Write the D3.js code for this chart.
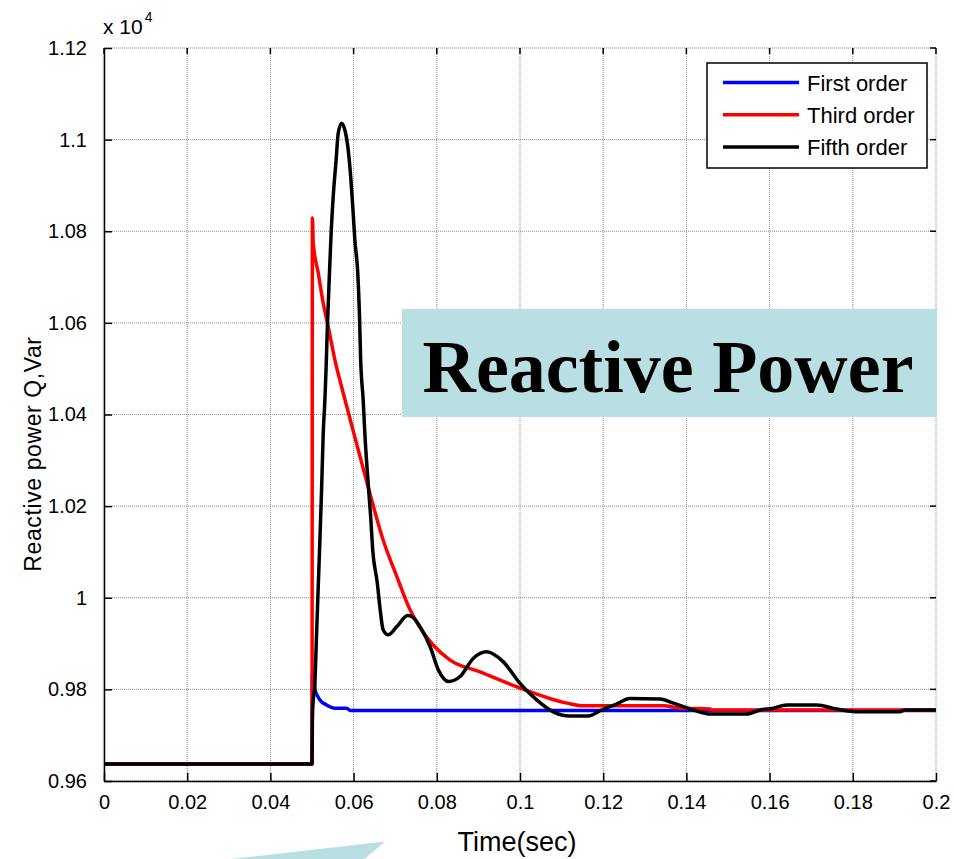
<!doctype html>
<html>
<head>
<meta charset="utf-8">
<title>Reactive Power</title>
<style>
  body { margin: 0; background: #fff; }
  svg { display: block; font-family: "Liberation Sans", Arial, sans-serif; }
</style>
</head>
<body>
<div id="chart"></div>
<script src="https://d3js.org/d3.v7.min.js"></script>
<script>
// time (s), reactive power (Var)
var firstOrder = [
  [0, 9637], [0.05, 9637], [0.0501, 9835], [0.0503, 9830], [0.0507, 9800],
  [0.0512, 9788], [0.0519, 9777], [0.0535, 9766], [0.0555, 9759],
  [0.0583, 9759], [0.0592, 9754], [0.2, 9754]
];
var thirdOrder = [
  [0, 9637], [0.05, 9637], [0.0501, 10829], [0.0503, 10774], [0.0515, 10709],
  [0.0527, 10643], [0.0539, 10592], [0.0555, 10519], [0.0575, 10447],
  [0.0607, 10337], [0.0639, 10228], [0.0671, 10126], [0.0704, 10046],
  [0.0736, 9973], [0.0767, 9925], [0.079, 9898], [0.0832, 9864],
  [0.0904, 9838], [0.1, 9803], [0.1113, 9770], [0.1151, 9764],
  [0.1344, 9764], [0.1385, 9759], [0.1457, 9757], [0.146, 9755], [0.2, 9755]
];
var fifthOrder = [
  [0, 9637], [0.05, 9637], [0.0501, 9735], [0.0502, 9762], [0.0507, 9813],
  [0.0511, 9922], [0.0515, 10024], [0.0519, 10126], [0.0523, 10235],
  [0.0527, 10359], [0.0531, 10432], [0.0534, 10505], [0.0537, 10592],
  [0.0542, 10709], [0.0546, 10796], [0.0551, 10876], [0.0558, 10956],
  [0.0563, 11014], [0.0571, 11036], [0.0579, 11021], [0.0587, 10978],
  [0.0593, 10919], [0.0598, 10854], [0.0603, 10781], [0.061, 10709],
  [0.0614, 10621], [0.0617, 10519], [0.0623, 10432], [0.0627, 10359],
  [0.0635, 10250], [0.0641, 10177], [0.0646, 10104], [0.0657, 10032],
  [0.0663, 9981], [0.0671, 9930], [0.0683, 9919], [0.0704, 9937],
  [0.073, 9961], [0.074, 9959], [0.0764, 9930], [0.0784, 9893],
  [0.0804, 9842], [0.0828, 9817], [0.0856, 9828], [0.0888, 9868],
  [0.092, 9882], [0.096, 9860], [0.1, 9813], [0.104, 9777], [0.108, 9751],
  [0.112, 9742], [0.1164, 9742], [0.1196, 9755], [0.1232, 9768],
  [0.1264, 9780], [0.1337, 9779], [0.1369, 9770], [0.1417, 9755],
  [0.1457, 9746], [0.1545, 9746], [0.1577, 9755], [0.1609, 9759],
  [0.1641, 9766], [0.1713, 9766], [0.1761, 9757], [0.1813, 9751],
  [0.1913, 9751], [0.1925, 9755], [0.2, 9755]
];

var xTicks = [0, 0.02, 0.04, 0.06, 0.08, 0.1, 0.12, 0.14, 0.16, 0.18, 0.2];
var yTicks = [9600, 9800, 10000, 10200, 10400, 10600, 10800, 11000, 11200];
var yTickLabels = ["0.96", "0.98", "1", "1.02", "1.04", "1.06", "1.08", "1.1", "1.12"];

var seriesNames = ["First order", "Third order", "Fifth order"];
var seriesColors = ["#0000ff", "#ff0000", "#000000"];
var seriesData = [firstOrder, thirdOrder, fifthOrder];

var W = 954, H = 859;
var pL = 104, pR = 936, pT = 48, pB = 781;

var svg = d3.select("#chart").append("svg")
  .attr("width", W).attr("height", H);

svg.append("rect").attr("width", W).attr("height", H).attr("fill", "#fff");

var x = d3.scaleLinear().domain([0, 0.2]).range([pL, pR]);
var y = d3.scaleLinear().domain([9600, 11200]).range([pB, pT]);

// grid
var grid = svg.append("g");
grid.selectAll(".gx").data(xTicks).enter().append("line")
  .attr("x1", function(d) { return x(d); }).attr("x2", function(d) { return x(d); })
  .attr("y1", pT).attr("y2", pB)
  .attr("stroke", "#8a8a8a").attr("stroke-width", 1).attr("stroke-dasharray", "1,1");
grid.selectAll(".gy").data(yTicks).enter().append("line")
  .attr("x1", pL).attr("x2", pR)
  .attr("y1", function(d) { return y(d); }).attr("y2", function(d) { return y(d); })
  .attr("stroke", "#8a8a8a").attr("stroke-width", 1).attr("stroke-dasharray", "1,1");

// axes (ticks pointing inwards, MATLAB style)
var xAxis = d3.axisBottom(x).tickValues(xTicks).tickSizeInner(-8).tickSizeOuter(0)
  .tickPadding(14).tickFormat(function(d) { return d3.format("")(+d.toFixed(2)); });
var gx = svg.append("g").attr("transform", "translate(0," + pB + ")").call(xAxis);
var yAxis = d3.axisLeft(y).tickValues(yTicks).tickSizeInner(-8).tickSizeOuter(0)
  .tickPadding(17).tickFormat(function(d, i) { return yTickLabels[i]; });
var gy = svg.append("g").attr("transform", "translate(" + pL + ",0)").call(yAxis);

[gx, gy].forEach(function(g) {
  g.select(".domain").attr("stroke", "#000").attr("stroke-width", 1.5);
  g.selectAll(".tick line").attr("stroke", "#000").attr("stroke-width", 1.5);
  g.selectAll(".tick text").attr("fill", "#000").style("font-size", "20px");
});

// top and right ticks
svg.append("g").selectAll("line").data(xTicks).enter().append("line")
  .attr("x1", function(d) { return x(d); }).attr("x2", function(d) { return x(d); })
  .attr("y1", pT).attr("y2", pT + 6).attr("stroke", "#000").attr("stroke-width", 1.5);
svg.append("g").selectAll("line").data(yTicks).enter().append("line")
  .attr("x1", pR).attr("x2", pR - 6)
  .attr("y1", function(d) { return y(d); }).attr("y2", function(d) { return y(d); })
  .attr("stroke", "#000").attr("stroke-width", 1.5);

// exponent
var ex = svg.append("text").attr("x", 103).attr("y", 34).style("font-size", "21px");
ex.append("tspan").text("x 10");
ex.append("tspan").attr("dy", -12).attr("dx", 2).style("font-size", "14px").text("4");

// curves
var line = d3.line()
  .x(function(d) { return x(d[0]); })
  .y(function(d) { return y(d[1]); })
  .curve(d3.curveMonotoneX);

svg.append("g").selectAll("path").data(seriesData).enter().append("path")
  .attr("d", line)
  .attr("fill", "none")
  .attr("stroke", function(d, i) { return seriesColors[i]; })
  .attr("stroke-width", 3.5)
  .attr("stroke-linejoin", "round");

// teal label box
svg.append("rect").attr("x", 402).attr("y", 309).attr("width", 535).attr("height", 108)
  .attr("fill", "#badfe3");
svg.append("text").attr("x", 668).attr("y", 392).attr("text-anchor", "middle")
  .style("font-family", "'Liberation Serif', 'Times New Roman', serif")
  .style("font-weight", "bold").style("font-size", "74px")
  .text("Reactive Power");

// teal arrow fragment at the bottom
svg.append("polygon")
  .attr("points", "205,862 385,841.5 361,862")
  .attr("fill", "#badfe3");

// legend
var lg = svg.append("g");
lg.append("rect").attr("x", 707).attr("y", 63).attr("width", 220).attr("height", 105)
  .attr("fill", "#fff").attr("stroke", "#000").attr("stroke-width", 1.5);
var items = lg.selectAll(".item").data(seriesNames).enter().append("g")
  .attr("transform", function(d, i) { return "translate(0," + (82.5 + i * 32.2) + ")"; });
items.append("line").attr("x1", 723).attr("x2", 799).attr("y1", 0).attr("y2", 0)
  .attr("stroke", function(d, i) { return seriesColors[i]; }).attr("stroke-width", 3.5);
items.append("text").attr("x", 807).attr("y", 8).style("font-size", "22px")
  .text(function(d) { return d; });

// axis titles
svg.append("text").attr("x", 517).attr("y", 851).attr("text-anchor", "middle")
  .style("font-size", "27px").text("Time(sec)");
svg.append("text").attr("transform", "translate(41,454) rotate(-90)")
  .attr("text-anchor", "middle").style("font-size", "23px").style("letter-spacing", "0.6px")
  .text("Reactive power Q,Var");
</script>
</body>
</html>
